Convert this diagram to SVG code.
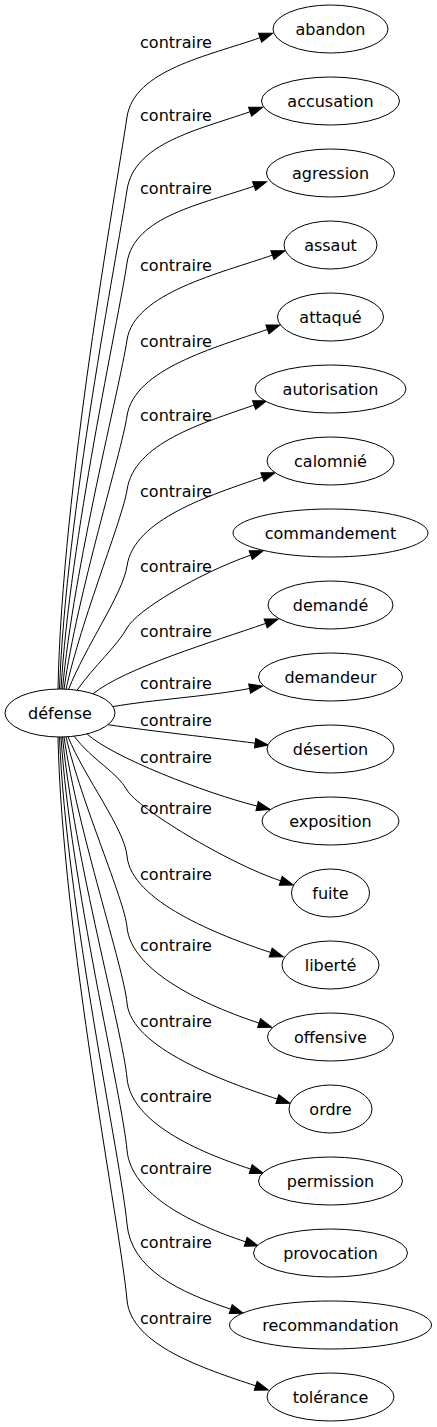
<svg xmlns="http://www.w3.org/2000/svg" width="437" height="1427" viewBox="0 0 437 1427">
<style>
  .node ellipse { fill: #ffffff; stroke: #000000; stroke-width: 1; }
  text { font-family: "DejaVu Sans", "Noto Sans", sans-serif; font-size: 16px; fill: #000000; text-anchor: middle; }
  .edge path { fill: none; stroke: #000000; stroke-width: 1; marker-end: url(#arr); }
</style>
<defs>
  <marker id="arr" markerUnits="userSpaceOnUse" markerWidth="14" markerHeight="10" viewBox="0 0 14 10" refX="0" refY="4.7" orient="auto" overflow="visible">
    <path d="M0,0 L13.3,4.7 L0,9.4 Z" fill="#000000" stroke="#000000" stroke-width="1"/>
  </marker>
</defs>
<rect x="0" y="0" width="437" height="1427" fill="#ffffff"/>
<g id="edges">
  <g class="edge" id="e-abandon"><path d="M58,689 C62,488.8 115.6,193.8 127,117 C134,70 208.2,55.9 260.1,37.7"/><text x="176" y="48">contraire</text></g>
  <g class="edge" id="e-accusation"><path d="M59.5,689 C65.9,514.4 117,257 127,190 C134,143 198.2,129.9 250.1,111.7"/><text x="176" y="121">contraire</text></g>
  <g class="edge" id="e-agression"><path d="M61,689 C69.7,539.9 118.5,320.2 127,263 C134,216 202.2,204.3 254.1,186.1"/><text x="176" y="194">contraire</text></g>
  <g class="edge" id="e-assaut"><path d="M62.5,689 C73.6,566.8 120,386.9 127,340 C134,293 220.5,273.3 272.4,255.1"/><text x="176" y="271">contraire</text></g>
  <g class="edge" id="e-attaque"><path d="M64,689.1 C77.3,593.5 121.5,452.7 127,416 C134,369 215.5,347.6 267.4,329.4"/><text x="176" y="347">contraire</text></g>
  <g class="edge" id="e-autorisation"><path d="M66,689.3 C81.2,619.5 122.8,518.2 127,490 C134,443 202.2,423.3 254.1,405.1"/><text x="176" y="421">contraire</text></g>
  <g class="edge" id="e-calomnie"><path d="M68.5,689.6 C85.4,646.3 122.8,594.2 127,566 C134,519 210.5,495.3 262.4,477.1"/><text x="176" y="497">contraire</text></g>
  <g class="edge" id="e-commandement"><path d="M77,690.2 C95,665 117,646 127,628 C137,610 198.8,573.3 250.7,555.1"/><text x="176" y="572">contraire</text></g>
  <g class="edge" id="e-demande"><path d="M93,693.8 C125,668 214,641.5 265.7,623.4"/><text x="176" y="637">contraire</text></g>
  <g class="edge" id="e-demandeur"><path d="M113,706.6 C150,700 211,696 249.6,688.5"/><text x="176" y="689">contraire</text></g>
  <g class="edge" id="e-desertion"><path d="M108,724.7 C150,731 216,738 255.1,743.2"/><text x="176" y="726">contraire</text></g>
  <g class="edge" id="e-exposition"><path d="M87,733.9 C112,757 205,793 257.1,806.1"/><text x="176" y="763">contraire</text></g>
  <g class="edge" id="e-fuite"><path d="M74,736.2 C92,760 117,772 127,790 C137,808 228.5,863.6 280.7,880.8"/><text x="176" y="814">contraire</text></g>
  <g class="edge" id="e-liberte"><path d="M68,736.7 C85.2,778.5 124.6,829 127,856 C131,901 218.5,935.3 270.7,952.5"/><text x="176" y="880">contraire</text></g>
  <g class="edge" id="e-offensive"><path d="M66,736.8 C81.5,803.4 124.6,900 127,927 C131,972 206.9,1005.9 259.1,1023.1"/><text x="176" y="951">contraire</text></g>
  <g class="edge" id="e-ordre"><path d="M64,736.9 C77.5,830 124,968.8 127,1003 C131,1048 225.2,1081.9 277.4,1099.1"/><text x="176" y="1027">contraire</text></g>
  <g class="edge" id="e-permission"><path d="M62.5,737 C73.9,856.4 123.1,1034.2 127,1078 C131,1123 198.5,1151.9 250.7,1169.1"/><text x="176" y="1102">contraire</text></g>
  <g class="edge" id="e-provocation"><path d="M61,737 C70.2,881.6 122.3,1096.9 127,1150 C131,1195 193.5,1224.6 245.7,1241.8"/><text x="176" y="1174">contraire</text></g>
  <g class="edge" id="e-recommandation"><path d="M59.5,737 C66.3,907.5 121.4,1161.4 127,1224 C131,1269 178.5,1291.9 230.7,1309.1"/><text x="176" y="1248">contraire</text></g>
  <g class="edge" id="e-tolerance"><path d="M58,737 C62.3,934 120.6,1227.6 127,1300 C131,1345 203.5,1368.6 255.7,1385.8"/><text x="176" y="1324">contraire</text></g>
</g>
<g class="node" id="n-defense"><ellipse cx="60" cy="713" rx="55" ry="24"/><text x="60" y="719">défense</text></g>
<g class="node" id="n-abandon"><ellipse cx="330.5" cy="29" rx="57.5" ry="24"/><text x="330.5" y="35">abandon</text></g>
<g class="node" id="n-accusation"><ellipse cx="330.5" cy="101" rx="69" ry="24"/><text x="330.5" y="107">accusation</text></g>
<g class="node" id="n-agression"><ellipse cx="330.5" cy="173" rx="64" ry="24"/><text x="330.5" y="179">agression</text></g>
<g class="node" id="n-assaut"><ellipse cx="330.5" cy="245" rx="46.5" ry="24"/><text x="330.5" y="251">assaut</text></g>
<g class="node" id="n-attaque"><ellipse cx="330.5" cy="317" rx="53" ry="24"/><text x="330.5" y="323">attaqué</text></g>
<g class="node" id="n-autorisation"><ellipse cx="330.5" cy="389" rx="75.5" ry="24"/><text x="330.5" y="395">autorisation</text></g>
<g class="node" id="n-calomnie"><ellipse cx="330.5" cy="461" rx="63.5" ry="24"/><text x="330.5" y="467">calomnié</text></g>
<g class="node" id="n-commandement"><ellipse cx="330.5" cy="533" rx="97.5" ry="24"/><text x="330.5" y="539">commandement</text></g>
<g class="node" id="n-demande"><ellipse cx="330.5" cy="605" rx="62.5" ry="24"/><text x="330.5" y="611">demandé</text></g>
<g class="node" id="n-demandeur"><ellipse cx="330.5" cy="677" rx="72" ry="24"/><text x="330.5" y="683">demandeur</text></g>
<g class="node" id="n-desertion"><ellipse cx="330.5" cy="749" rx="63.5" ry="24"/><text x="330.5" y="755">désertion</text></g>
<g class="node" id="n-exposition"><ellipse cx="330.5" cy="821" rx="68.5" ry="24"/><text x="330.5" y="827">exposition</text></g>
<g class="node" id="n-fuite"><ellipse cx="330.5" cy="893" rx="39" ry="24"/><text x="330.5" y="899">fuite</text></g>
<g class="node" id="n-liberte"><ellipse cx="330.5" cy="965" rx="48.5" ry="24"/><text x="330.5" y="971">liberté</text></g>
<g class="node" id="n-offensive"><ellipse cx="330.5" cy="1037" rx="63" ry="24"/><text x="330.5" y="1043">offensive</text></g>
<g class="node" id="n-ordre"><ellipse cx="330.5" cy="1109" rx="41.5" ry="24"/><text x="330.5" y="1115">ordre</text></g>
<g class="node" id="n-permission"><ellipse cx="330.5" cy="1181" rx="72" ry="24"/><text x="330.5" y="1187">permission</text></g>
<g class="node" id="n-provocation"><ellipse cx="330.5" cy="1253" rx="77" ry="24"/><text x="330.5" y="1259">provocation</text></g>
<g class="node" id="n-recommandation"><ellipse cx="330.5" cy="1325" rx="101" ry="24"/><text x="330.5" y="1331">recommandation</text></g>
<g class="node" id="n-tolerance"><ellipse cx="330.5" cy="1397" rx="63.5" ry="24"/><text x="330.5" y="1403">tolérance</text></g>
</svg>
